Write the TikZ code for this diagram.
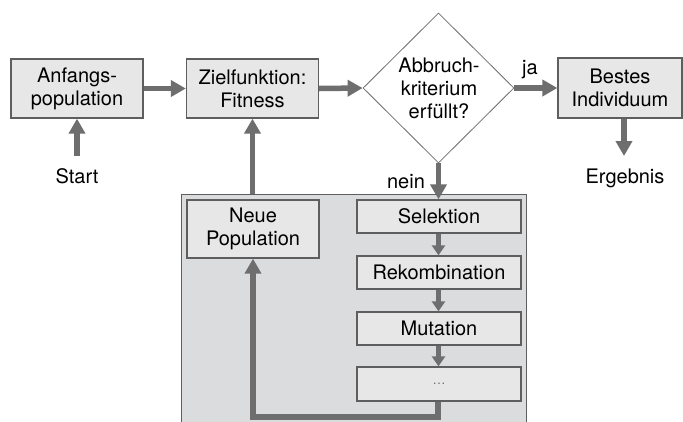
\documentclass[tikz,border=0pt]{standalone}
\usepackage{fontspec}
\setmainfont{TeX Gyre Heros}
\usetikzlibrary{arrows.meta,shapes.geometric}
\definecolor{arrowgray}{HTML}{6E6E6E}
\definecolor{boxfill}{HTML}{E7E7E7}
\definecolor{boxline}{HTML}{5E5E5E}
\definecolor{panelfill}{HTML}{DBDCDE}
\begin{document}
\begin{tikzpicture}[x=1pt,y=-1pt,
  every node/.style={font=\fontsize{20}{23}\selectfont, inner sep=0pt},
  box/.style={draw=boxline, line width=1.3pt, fill=boxfill, align=center},
  bigarrow/.style={draw=arrowgray, line width=5.5pt, -{Triangle[width=16pt,length=15pt]}},
  smallarrow/.style={draw=arrowgray, line width=5.5pt, -{Triangle[width=13pt,length=10pt]}},
  lbl/.style={anchor=base}]
\useasboundingbox (0,0) rectangle (683,421);
\fill[white] (0,0) rectangle (683,421);
% panel
\node[draw=boxline, line width=1.3pt, fill=panelfill, minimum width=345pt, minimum height=240pt, anchor=north west] (panel) at (181,194) {};
% top row
\node[box, minimum width=132pt, minimum height=59pt] (anf) at (77,88.5) {Anfangs-\\population};
\node[box, minimum width=132pt, minimum height=59pt] (ziel) at (252.5,88.5) {Zielfunktion:\\Fitness};
\node[diamond, draw=arrowgray, line width=0.8pt, fill=white, minimum width=151pt, minimum height=150pt, inner sep=0pt] (dia) at (438.5,88) {};
\node[align=center] (diatext) at (439,88) {Abbruch-\\kriterium\\erfüllt?};
\node[box, minimum width=124pt, minimum height=60pt] (best) at (620,88) {Bestes\\Individuum};
% panel contents
\node[box, minimum width=132pt, minimum height=58pt] (neue) at (253,229) {Neue\\Population};
\node[box, minimum width=164pt, minimum height=33pt] (sel) at (439,216.5) {Selektion};
\node[box, minimum width=164pt, minimum height=33pt] (rek) at (439,272.5) {Rekombination};
\node[box, minimum width=164pt, minimum height=33pt] (mut) at (439,328.5) {Mutation};
\node[box, minimum width=164pt, minimum height=34pt] (dots) at (439,384) {\textcolor{arrowgray}{\fontsize{13}{13}\selectfont …}};
% labels
\node[lbl] (start) at (77,183) {Start};
\node[lbl] (erg) at (625,183) {Ergebnis};
\node[lbl] (nein) at (406,188) {nein};
\node[lbl] (ja) at (530,74) {ja};
\coordinate (startend) at (77,156);
\coordinate (ergend) at (624,156);
\coordinate (fbA) at (438,417);
\coordinate (fbB) at (253,417);
% arrows
\draw[bigarrow] (startend) -- (anf.south);
\draw[bigarrow] (anf.east) -- (ziel.west);
\draw[bigarrow] (ziel.east) -- (dia.west);
\draw[bigarrow] (dia.east) -- (best.west);
\draw[bigarrow] (best.south -| ergend) -- (ergend);
\draw[bigarrow] (dia.south) -- (sel.north -| dia.south);
\draw[bigarrow] (panel.north -| ziel.south) -- (ziel.south);
\draw[smallarrow] (sel.south -| dia.south) -- (rek.north -| dia.south);
\draw[smallarrow] (rek.south -| dia.south) -- (mut.north -| dia.south);
\draw[smallarrow] (mut.south -| dia.south) -- (dots.north -| dia.south);
\draw[bigarrow, line cap=butt] (dots.south -| fbA) -- (fbA) -- (fbB) -- (neue.south -| fbB);
\end{tikzpicture}
\end{document}
